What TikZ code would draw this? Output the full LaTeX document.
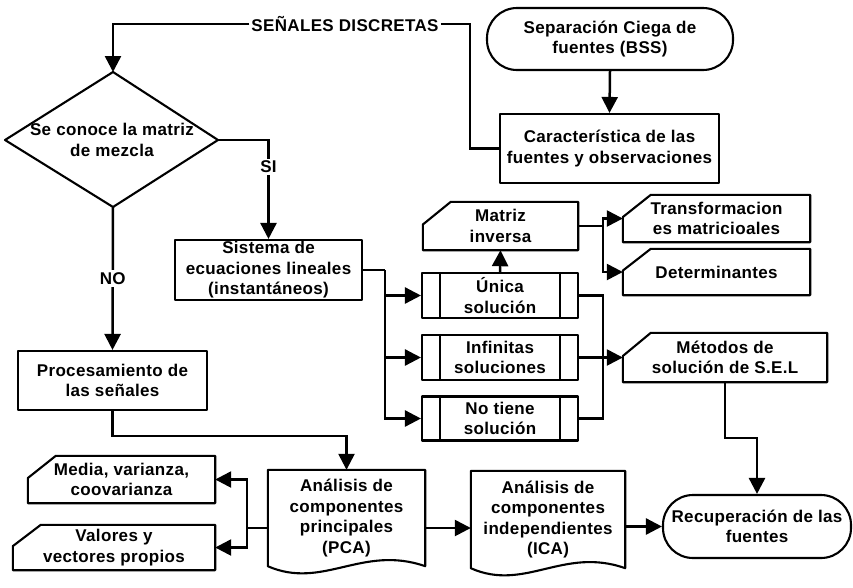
\documentclass[tikz,border=0pt]{standalone}
\usepackage{fontspec}
\setmainfont{Liberation Sans}[LetterSpace=2]
\usetikzlibrary{arrows.meta,calc}
\tikzset{
  txt/.style={font=\fontsize{17}{20.5}\selectfont\bfseries, align=center, inner sep=0pt},
  box/.style={line width=2.1pt, line join=round},
  ln/.style={line width=2.5pt},
  arr/.style={ln, -{Triangle[length=16pt,width=16pt]}},
  lbl/.style={txt, fill=white, inner sep=2pt},
  rect/.style={txt, draw, box},
  term/.style={txt, draw, box, rounded corners=30pt},
  plain/.style={txt}
}
\newcommand\manualin[1]{\draw[box] let \p1=(#1.north west), \p2=(#1.south east) in
  (\x1,{\y1-0.47*(\y1-\y2)}) -- (\x1+28pt,\y1) -- (\x2,\y1) -- (\x2,\y2) -- (\x1,\y2) -- cycle;}
\newcommand\docshape[1]{\draw[box] let \p1=(#1.north west), \p2=(#1.south east), \n1={\x2-\x1} in
  (\p1) -- (\x2,\y1) -- (\x2,\y2) .. controls (\x2-0.4*\n1,\y2+22pt) and (\x1+0.35*\n1,\y2-24pt) .. (\x1,\y2) -- cycle;}
\newcommand\predef[1]{\draw[box] ($(#1.north west)+(19,0)$) -- ($(#1.south west)+(19,0)$)
  ($(#1.north east)+(-19,0)$) -- ($(#1.south east)+(-19,0)$);}
\begin{document}
\begin{tikzpicture}[x=1pt,y=-1pt]
\useasboundingbox (0,0) rectangle (853,587);
% nodes
\node[txt, inner xsep=2pt] (sen) at (345,24) {SEÑALES DISCRETAS};
\node[term, minimum width=246pt, minimum height=62pt] (bss) at (610,39) {Separación Ciega de\\fuentes (BSS)};
\node[rect, minimum width=219pt, minimum height=69pt] (car) at (609.5,148.5) {Característica de las\\fuentes y observaciones};
\node[txt] (dia) at (112,140) {Se conoce la matriz\\de mezcla};
\coordinate (diaT) at (113,72);
\coordinate (diaR) at (218,140);
\coordinate (diaB) at (113,207);
\coordinate (diaL) at (5,140);
\draw[box] (diaT) -- (diaR) -- (diaB) -- (diaL) -- cycle;
\node[rect, minimum width=187pt, minimum height=60pt] (sis) at (268.5,270) {Sistema de\\ecuaciones lineales\\(instantáneos)};
\node[plain, minimum width=155pt, minimum height=48pt] (mat) at (500.5,226) {Matriz\\inversa};
\manualin{mat}
\node[rect, minimum width=156pt, minimum height=45pt] (uni) at (500,295.5) {Única\\solución};
\predef{uni}
\node[rect, minimum width=156pt, minimum height=45pt] (inf) at (500,357.5) {Infinitas\\soluciones};
\predef{inf}
\node[rect, minimum width=156pt, minimum height=44pt] (not) at (500,418.5) {No tiene\\solución};
\predef{not}
\node[plain, minimum width=187pt, minimum height=47pt] (tra) at (716.5,218.5) {Transformacion\\es matricioales};
\manualin{tra}
\node[plain, minimum width=187pt, minimum height=46pt] (det) at (716.5,272) {Determinantes};
\manualin{det}
\node[plain, minimum width=204pt, minimum height=49pt] (met) at (725,357.5) {Métodos de\\solución de S.E.L};
\manualin{met}
\node[rect, minimum width=189pt, minimum height=59pt] (pro) at (112.5,380.5) {Procesamiento de\\las señales};
\node[plain, minimum width=187pt, minimum height=47pt] (med) at (121.5,479.5) {Media, varianza,\\coovarianza};
\manualin{med}
\node[plain, minimum width=202pt, minimum height=45pt] (val) at (114,547.5) {Valores y\\vectores propios};
\manualin{val}
\node[plain, minimum width=157pt, minimum height=96pt] (pca) at (346.5,518) {Análisis de\\componentes\\principales\\(PCA)};
\docshape{pca}
\node[plain, minimum width=154pt, minimum height=97pt] (ica) at (548,519.5) {Análisis de\\componentes\\independientes\\(ICA)};
\docshape{ica}
\node[term, minimum width=188pt, minimum height=63pt] (rec) at (757,526.5) {Recuperación de las\\fuentes};
% junction coordinates
\coordinate (k1) at (470,148.5);
\coordinate (j1) at (385,270);
\coordinate (j2) at (603,226);
\coordinate (j3) at (603,357.5);
\coordinate (j5) at (247,528);
% connectors
\draw[arr] (sen.west) -| (diaT);
\draw[ln] (sen.east) -| (k1) -- (car.west);
\draw[arr] (bss.south) -- (car.north);
\draw[arr] (diaR) -| (sis.north) node[lbl, pos=0.635] {SI};
\draw[arr] (diaB) -- (pro.north) node[lbl, midway] {NO};
\draw[ln] (sis.east) -- (j1);
\draw[arr] (j1) |- (uni.west);
\draw[arr] (j1) |- (inf.west);
\draw[arr] (j1) |- (not.west);
\draw[arr] (uni.north) -- (mat.south);
\draw[ln] (mat.east) -- (j2);
\draw[arr] (j2) |- (tra.west);
\draw[arr] (j2) |- (det.west);
\draw[ln] (uni.east) -| (j3) |- (not.east);
\draw[arr] (inf.east) -- (met.west);
\draw[arr] (met.south) -- ++(0,56) -| (rec.north);
\draw[arr] (pro.south) -- ++(0,25) -| (pca.north);
\draw[ln] (pca.west |- j5) -- (j5);
\draw[arr] (j5) |- (med.east);
\draw[arr] (j5) |- (val.east);
\draw[arr] (pca.east |- j5) -- (ica.west |- j5);
\draw[arr] (ica.east |- rec.west) -- (rec.west);
\end{tikzpicture}
\end{document}
